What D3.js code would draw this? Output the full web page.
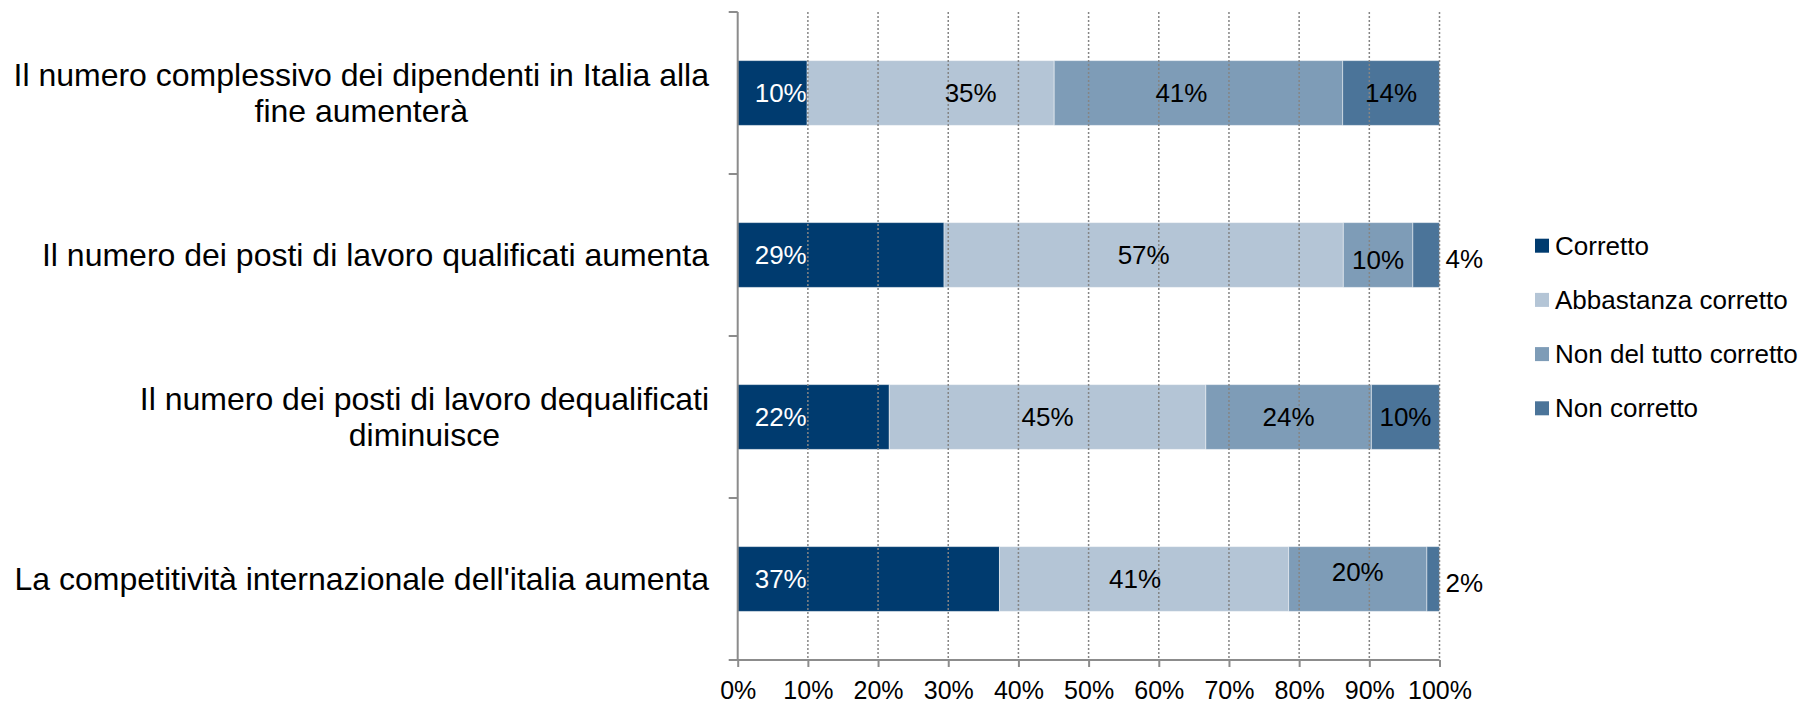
<!DOCTYPE html>
<meta charset="utf-8">
<script src="https://d3js.org/d3.v7.min.js"></script>
<style>
  body { margin: 0; background: #fff; }
  text { font-family: Arial, "Liberation Sans", sans-serif; }
</style>
<div id="chart"></div>
<script>
// categories (each one split into the lines shown in the chart)
var categories = [
  ["Il numero complessivo dei dipendenti in Italia alla", "fine aumenterà"],
  ["Il numero dei posti di lavoro qualificati aumenta"],
  ["Il numero dei posti di lavoro dequalificati", "diminuisce"],
  ["La competitività internazionale dell'italia aumenta"]
];
var seriesNames = ["Corretto", "Abbastanza corretto", "Non del tutto corretto", "Non corretto"];

// values in percent
var corretto    = [9.9, 29.4, 21.6, 37.3];
var abbastanza  = [35.2, 56.9, 45.1, 41.2];
var nonDelTutto = [41.1, 9.9, 23.6, 19.7];
var nonCorretto = [13.8, 3.8, 9.7, 1.8];

var xTickValues = [0, 10, 20, 30, 40, 50, 60, 70, 80, 90, 100];

var colors = ["#003b6f", "#b4c5d6", "#7e9cb7", "#4b7499"];

// small hand adjustments of some data labels, as in the original
var labelNudge = {
  "0-1": [40, 0], "0-2": [-17, 0],
  "1-2": [0, 5], "1-3": [0, 4],
  "3-1": [-9, 0], "3-2": [0, -7], "3-3": [0, 4]
};

var W = 1807, H = 703;
var plot = {left: 737.7, right: 1439.5, top: 12, bottom: 660};

var svg = d3.select("#chart").append("svg")
    .attr("width", W)
    .attr("height", H);

// build rows for the stack
var rows = categories.map(function(c, i) {
  return {i: i, s0: corretto[i], s1: abbastanza[i], s2: nonDelTutto[i], s3: nonCorretto[i]};
});
var stacked = d3.stack().keys(["s0", "s1", "s2", "s3"])(rows);

var x = d3.scaleLinear().domain([0, 100]).range([plot.left, plot.right]);
var y = d3.scaleBand()
    .domain(d3.range(categories.length))
    .range([plot.top, plot.bottom])
    .paddingInner(0.6)
    .paddingOuter(0.3);

// bars
var layers = svg.append("g").selectAll("g")
  .data(stacked)
  .enter().append("g")
    .attr("fill", function(d, k) { return colors[k]; });

layers.selectAll("rect")
  .data(function(d) { return d; })
  .enter().append("rect")
    .attr("x", function(d) { return x(d[0]); })
    .attr("y", function(d) { return y(d.data.i); })
    .attr("width", function(d) { return x(d[1]) - x(d[0]); })
    .attr("height", y.bandwidth())
    .attr("stroke", "rgba(255,255,255,0.45)")
    .attr("stroke-width", 1);

// dotted vertical gridlines (drawn over the bars like in the picture)
svg.append("g").selectAll("line")
  .data(xTickValues.slice(1))
  .enter().append("line")
    .attr("x1", function(d) { return x(d); })
    .attr("x2", function(d) { return x(d); })
    .attr("y1", plot.top)
    .attr("y2", plot.bottom)
    .attr("stroke", "#858585")
    .attr("stroke-width", 1.5)
    .attr("stroke-dasharray", "2,2");

// x axis
var xAxis = svg.append("g")
  .attr("transform", "translate(0," + plot.bottom + ")")
  .call(d3.axisBottom(x).tickValues(xTickValues)
        .tickFormat(function(d) { return d + "%"; })
        .tickSizeInner(7).tickSizeOuter(0).tickPadding(14));
xAxis.select(".domain").remove();
xAxis.append("line")
  .attr("x1", plot.left - 9).attr("x2", plot.right)
  .attr("stroke", "#8c8c8c").attr("stroke-width", 2);
xAxis.selectAll(".tick line").attr("stroke", "#8c8c8c").attr("stroke-width", 2);
xAxis.selectAll(".tick text")
  .attr("fill", "#000")
  .style("font-size", "25px")
  .style("font-family", "Arial, 'Liberation Sans', sans-serif");

// y axis line + ticks at band boundaries
var yAxis = svg.append("g");
yAxis.append("line")
  .attr("x1", plot.left).attr("x2", plot.left)
  .attr("y1", plot.top).attr("y2", plot.bottom)
  .attr("stroke", "#8c8c8c").attr("stroke-width", 2);
var bounds = d3.range(categories.length + 1).map(function(k) {
  return plot.top + k * y.step();
});
yAxis.selectAll(".ytick")
  .data(bounds.slice(0, -1))
  .enter().append("line")
    .attr("x1", plot.left - 9).attr("x2", plot.left)
    .attr("y1", function(d) { return d; })
    .attr("y2", function(d) { return d; })
    .attr("stroke", "#8c8c8c").attr("stroke-width", 2);

// category labels: block right aligned, lines centred in the block
var catFont = 32, lineGap = 35.6, labelRight = 709;
var catG = svg.append("g");
categories.forEach(function(lines, i) {
  var g = catG.append("g");
  var cy = y(i) + y.bandwidth() / 2;
  var texts = lines.map(function(t, j) {
    return g.append("text")
      .attr("y", cy + (j - (lines.length - 1) / 2) * lineGap)
      .attr("dy", ".35em")
      .attr("text-anchor", "middle")
      .style("font-size", catFont + "px")
      .attr("fill", "#000")
      .text(t);
  });
  var w = d3.max(texts, function(t) { return t.node().getComputedTextLength(); });
  texts.forEach(function(t) { t.attr("x", labelRight - w / 2); });
});

// data labels
var fmt = d3.format(".0f");
stacked.forEach(function(layer, k) {
  layer.forEach(function(d, i) {
    var v = d[1] - d[0];
    var nudge = labelNudge[i + "-" + k] || [0, 0];
    var lx, anchor;
    if (k === 0) { lx = x(d[0]) + 17; anchor = "start"; }
    else if (v < 5) { lx = x(d[1]) + 6; anchor = "start"; }
    else { lx = (x(d[0]) + x(d[1])) / 2; anchor = "middle"; }
    svg.append("text")
      .attr("x", lx + nudge[0])
      .attr("y", y(i) + y.bandwidth() / 2 + nudge[1])
      .attr("dy", ".35em")
      .attr("text-anchor", anchor)
      .style("font-size", "26px")
      .attr("fill", k === 0 ? "#fff" : "#000")
      .text(fmt(v) + "%");
  });
});

// legend
var legend = svg.append("g").attr("transform", "translate(1535,245.7)");
var item = legend.selectAll("g")
  .data(seriesNames)
  .enter().append("g")
    .attr("transform", function(d, k) { return "translate(0," + (k * 54.2) + ")"; });
item.append("rect")
  .attr("x", 0).attr("y", -7)
  .attr("width", 14).attr("height", 14)
  .attr("fill", function(d, k) { return colors[k]; });
item.append("text")
  .attr("x", 20)
  .attr("dy", ".35em")
  .style("font-size", "26px")
  .attr("fill", "#000")
  .text(function(d) { return d; });
</script>
